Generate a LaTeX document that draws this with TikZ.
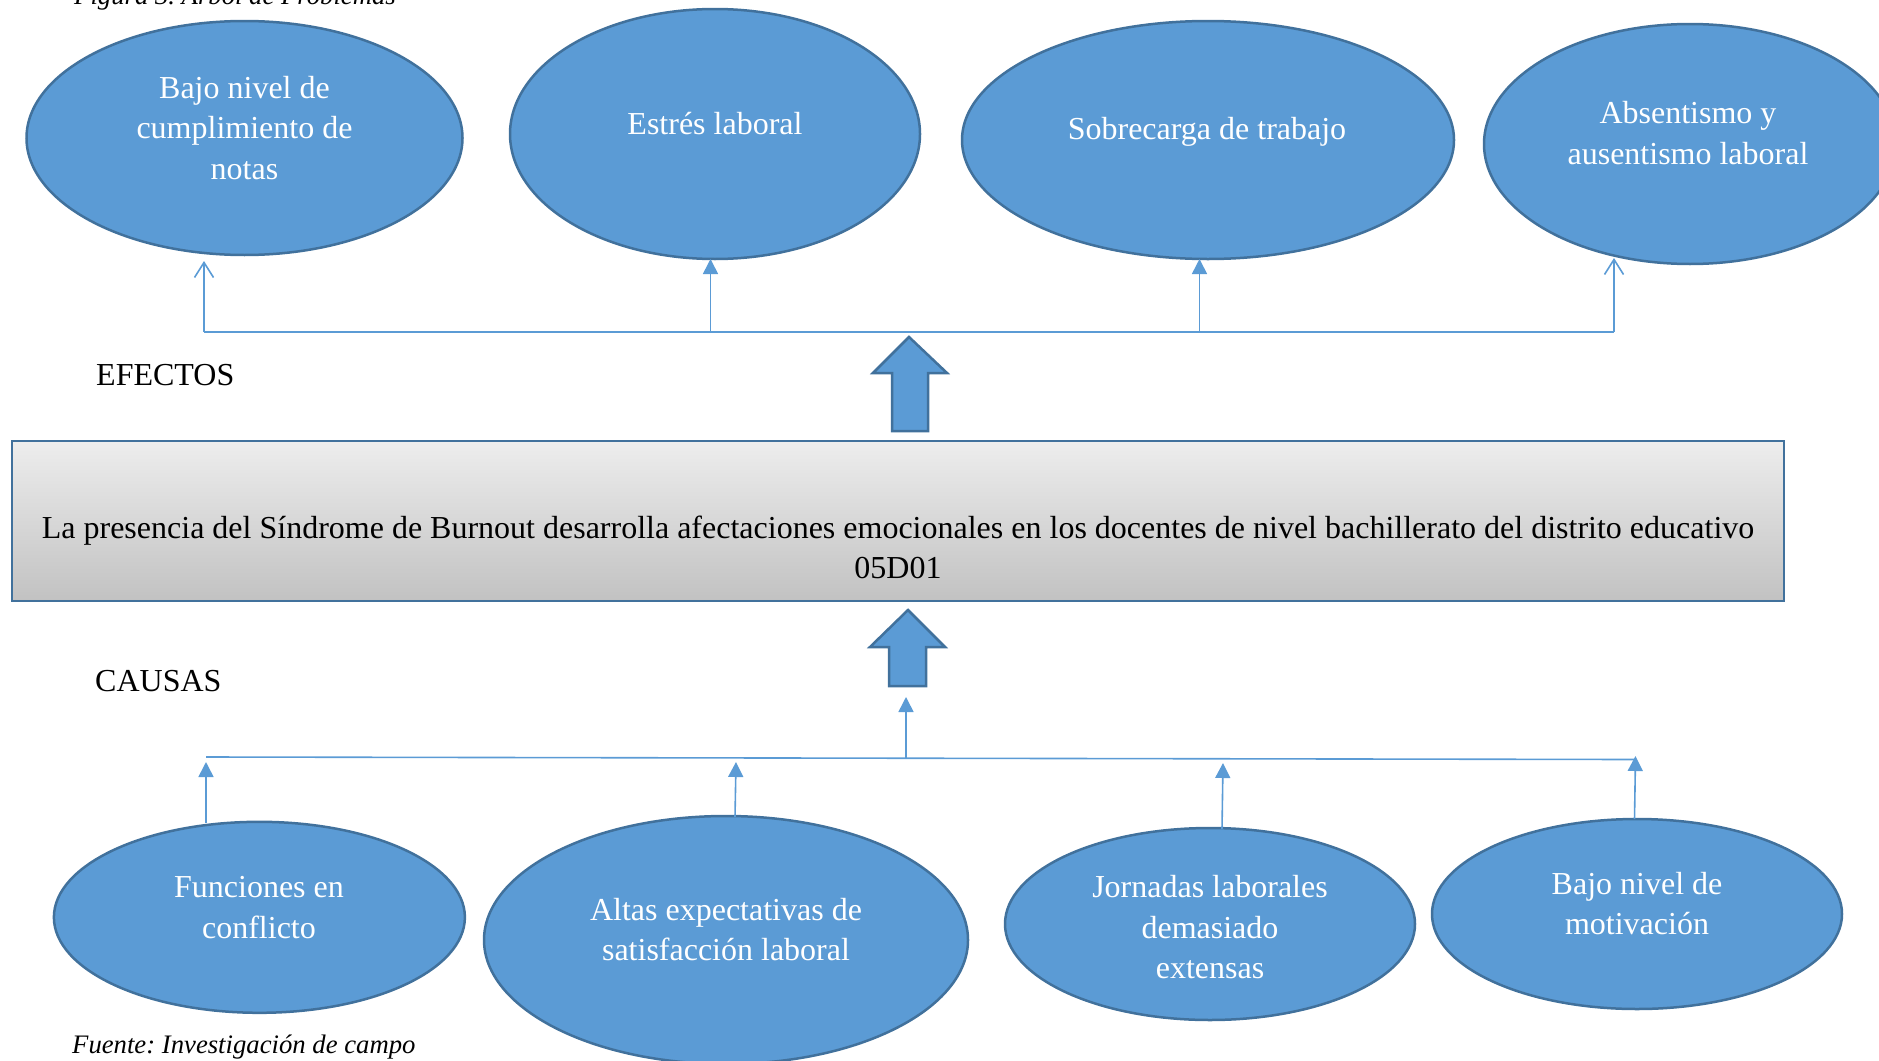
\documentclass[tikz,border=0pt]{standalone}
\usepackage{fontspec}
\setmainfont{Liberation Serif}
\frenchspacing
\usetikzlibrary{arrows.meta,shapes.geometric}
\definecolor{ellfill}{HTML}{5B9BD5}
\definecolor{elldraw}{HTML}{41719C}
\definecolor{linkblue}{HTML}{5B9BD5}
\begin{document}
\begin{tikzpicture}[x=1pt,y=-1pt,
  ell/.style={ellipse,draw=elldraw,line width=2.5pt,fill=ellfill,inner sep=0pt},
  etxt/.style={text=white,align=center,font=\fontsize{32}{40.5}\selectfont,inner sep=0pt},
  lbl/.style={anchor=west,font=\fontsize{32}{40.5}\selectfont,inner sep=0pt},
  link/.style={draw=linkblue,line width=1.6pt},
  filltip/.style={-{Triangle[length=15pt,width=15pt]}},
  opentip/.style={-{Straight Barb[length=15pt,width=19pt,line width=1.6pt]}},
  blockarrow/.style={fill=ellfill,draw=elldraw,line width=2.5pt,line join=miter},
  captxt/.style={anchor=base west,font=\fontsize{26.7}{32}\selectfont\itshape,inner sep=0pt}]
\useasboundingbox (0,0) rectangle (1879,1060);
\node[ell,minimum width=436pt,minimum height=234pt] (ef1) at (244.5,138) {};
\node[ell,minimum width=410pt,minimum height=250pt] (ef2) at (715,134) {};
\node[ell,minimum width=492pt,minimum height=238pt] (ef3) at (1208,140) {};
\node[ell,minimum width=412pt,minimum height=240pt] (ef4) at (1690,144) {};
\node[etxt] (tf1) at (244.5,128) {Bajo nivel de\\cumplimiento de\\notas};
\node[etxt] (tf2) at (715,123.5) {Estrés laboral};
\node[etxt] (tf3) at (1207,132) {Sobrecarga de trabajo};
\node[etxt] (tf4) at (1688,133) {Absentismo y\\ausentismo laboral};
\node[ell,minimum width=411pt,minimum height=191pt] (ec1) at (259.4,917.3) {};
\node[ell,minimum width=484pt,minimum height=248pt] (ec2) at (726,940) {};
\node[ell,minimum width=410pt,minimum height=192pt] (ec3) at (1210,924) {};
\node[ell,minimum width=410pt,minimum height=190pt] (ec4) at (1637,914) {};
\node[etxt] (tc1) at (259,907.5) {Funciones en\\conflicto};
\node[etxt] (tc2) at (726,929.5) {Altas expectativas de\\satisfacción laboral};
\node[etxt] (tc3) at (1210,927.5) {Jornadas laborales\\demasiado\\extensas};
\node[etxt] (tc4) at (1637,903.5) {Bajo nivel de\\motivación};
\node[draw=elldraw,line width=2.2pt,top color=black!7,bottom color=black!24,
  minimum width=1772pt,minimum height=160pt,inner sep=0pt] (prob) at (898,521) {};
\node[align=center,font=\fontsize{32}{40}\selectfont,inner sep=0pt] (ptxt) at (898,547)
  {La presencia del Síndrome de Burnout desarrolla afectaciones emocionales en los docentes de nivel bachillerato del distrito educativo\\05D01};
\node[lbl] (efec) at (96,375) {EFECTOS};
\node[lbl] (caus) at (95,681) {CAUSAS};
\node[captxt] (fig) at (74,5) {Figura 3. Árbol de Problemas};
\node[captxt] (src) at (72,1053) {Fuente: Investigación de campo};
% effects bus and arrows
\coordinate (b1) at (204,332);
\coordinate (b2) at (710.5,332);
\coordinate (b3) at (1199.5,332);
\coordinate (b4) at (1614,332);
\coordinate (a1) at (204,261);
\coordinate (a2) at (710.5,259);
\coordinate (a3) at (1199.5,259);
\coordinate (a4) at (1614,258);
\draw[link] (b1) -- (b4);
\draw[link,opentip] (b1) -- (a1);
\draw[link,filltip] (b2) -- (a2);
\draw[link,filltip] (b3) -- (a3);
\draw[link,opentip] (b4) -- (a4);
% causes bus and arrows
\coordinate (c1) at (206,757);
\coordinate (c4) at (1636,759.5);
\coordinate (cm) at (906,758);
\coordinate (ct) at (906,697);
\coordinate (u1) at (206,762);
\coordinate (u2) at (736,762);
\coordinate (u3) at (1223,763);
\coordinate (u4) at (1635.5,756);
\coordinate (d1) at (206,823);
\coordinate (d2) at (735,817);
\coordinate (d3) at (1222,829);
\coordinate (d4) at (1634.5,819);
\draw[link] (c1) -- (c4);
\draw[link,filltip] (cm) -- (ct);
\draw[link,filltip] (d1) -- (u1);
\draw[link,filltip] (d2) -- (u2);
\draw[link,filltip] (d3) -- (u3);
\draw[link,filltip] (d4) -- (u4);
% block arrows
\draw[blockarrow] (909,337) -- (947,373) -- (928,373) -- (928,431) -- (892,431) -- (892,373) -- (873,373) -- cycle;
\draw[blockarrow] (908,610) -- (945,647) -- (926,647) -- (926,686) -- (889,686) -- (889,647) -- (870,647) -- cycle;
\end{tikzpicture}
\end{document}
